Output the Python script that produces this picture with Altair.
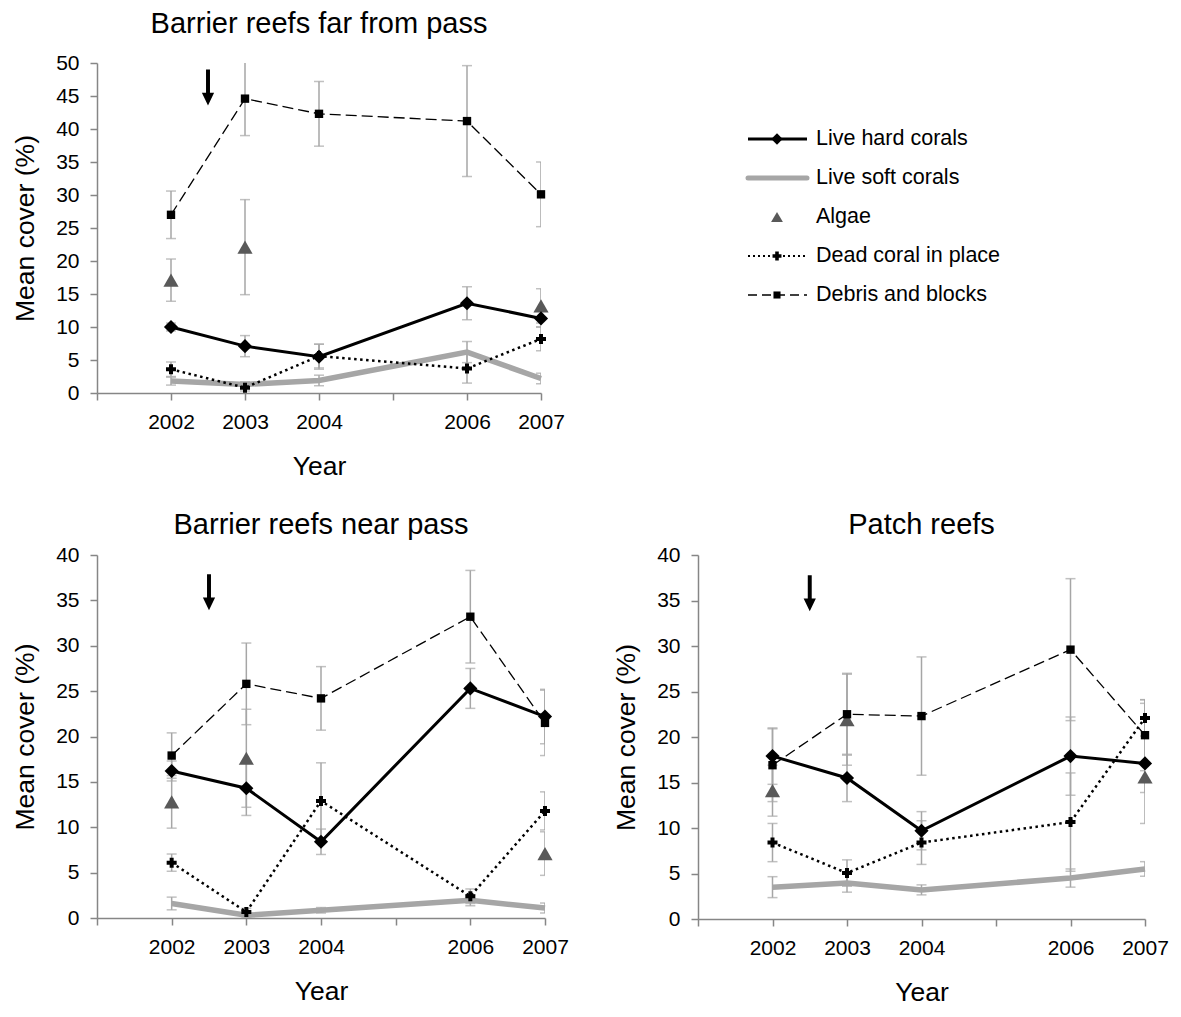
import altair as alt
import pandas as pd

FONT = "Liberation Sans"
GRAY = "#a6a6a6"
AXIS_GRAY = "#868686"
ALGAE = "#595959"

years = [2002, 2003, 2004, 2006, 2007]
series_names = ["Live hard  corals", "Live soft corals", "Algae",
                "Dead coral in place", "Debris and blocks"]

# ---- Barrier reefs far from pass ----
far_hard = [10.0, 7.1, 5.5, 13.6, 11.3]
far_hard_se = [0.6, 1.6, 1.9, 2.5, 1.3]
far_soft = [1.8, 1.3, 1.9, 6.2, 2.2]
far_soft_se = [0.6, 0.4, 0.8, 1.6, 0.8]
far_algae = [17.1, 22.1, None, None, 13.2]
far_algae_se = [3.2, 7.2, None, None, 2.6]
far_dead = [3.6, 0.8, 5.6, 3.7, 8.2]
far_dead_se = [1.1, 0.5, 1.8, 2.2, 1.8]
far_debris = [27.0, 44.6, 42.3, 41.2, 30.1]
far_debris_se = [3.6, 5.6, 4.9, 8.4, 4.9]

# ---- Barrier reefs near pass ----
near_hard = [16.2, 14.3, 8.4, 25.3, 22.2]
near_hard_se = [1.1, 3.0, 1.4, 2.2, 3.0]
near_soft = [1.6, 0.3, 0.85, 1.95, 1.1]
near_soft_se = [0.7, 0.3, 0.3, 0.6, 0.55]
near_algae = [12.8, 17.6, None, None, 7.1]
near_algae_se = [2.9, 5.4, None, None, 2.4]
near_dead = [6.1, 0.66, 12.9, 2.4, 11.8]
near_dead_se = [0.95, 0.4, 4.2, 0.8, 2.1]
near_debris = [17.9, 25.8, 24.2, 33.2, 21.5]
near_debris_se = [2.5, 4.5, 3.5, 5.1, 3.6]

# ---- Patch reefs ----
patch_hard = [17.9, 15.5, 9.7, 17.9, 17.1]
patch_hard_se = [3.1, 2.6, 2.1, 4.3, 6.6]
patch_soft = [3.5, 3.95, 3.2, 4.5, 5.5]
patch_soft_se = [1.15, 1.0, 0.55, 1.0, 0.8]
patch_algae = [14.1, 21.9, None, None, 15.6]
patch_algae_se = [2.8, 5.0, None, None, 1.7]
patch_dead = [8.4, 5.05, 8.4, 10.65, 22.1]
patch_dead_se = [2.1, 1.45, 2.4, 5.4, 2.0]
patch_debris = [16.9, 22.5, 22.3, 29.6, 20.2]
patch_debris_se = [4.0, 4.5, 6.5, 7.8, 3.9]

# arrow (disturbance marker) position per panel
arrow_year = 2002.5
arrow_far = 46.3
arrow_near = 35.9
arrow_patch = 35.8

ARROW_PATH = ("M -0.11 -1 L 0.11 -1 L 0.11 0.3 L 0.34 0.3 L 0 1 "
              "L -0.34 0.3 L -0.11 0.3 Z")


def build_df(groups):
    rows = []
    for name, vals, ses in groups:
        for yr, v, s in zip(years, vals, ses):
            if v is None:
                continue
            rows.append({"year": yr, "series": name, "value": v,
                         "lo": v - s, "hi": v + s})
    return pd.DataFrame(rows)


def panel(groups, title, ymax, arrow_val, w, h, title_offset):
    df = build_df(groups)
    x = alt.X("year:Q",
              scale=alt.Scale(domain=[2001, 2007], nice=False, zero=False),
              axis=alt.Axis(values=list(range(2001, 2008)), format="d",
                            labelExpr="(datum.value == 2001 || datum.value == 2005) ? '' : datum.label",
                            labelFlush=False, labelOverlap=False,
                            title="Year", tickSize=7, labelPadding=11,
                            titlePadding=21))
    yscale = alt.Scale(domain=[0, ymax], nice=False)
    yaxis = alt.Axis(values=list(range(0, ymax + 1, 5)), title="Mean cover (%)",
                     tickSize=7, labelPadding=11, titlePadding=16)
    base = alt.Chart(df)

    def y(field):
        return alt.Y(f"{field}:Q", scale=yscale, axis=yaxis)

    err = base.mark_rule(color=GRAY, strokeWidth=1.5, clip=True).encode(
        x=x, y=y("lo"), y2="hi:Q")
    caps = base.transform_fold(["lo", "hi"], as_=["end", "ev"]).mark_tick(
        orient="horizontal", color=GRAY, thickness=1.5, size=10, clip=True).encode(
        x=x, y=y("ev"))

    def sel(name):
        return base.transform_filter(alt.datum.series == name)

    soft = sel(series_names[1]).mark_line(color=GRAY, strokeWidth=5.5).encode(
        x=x, y=y("value"))
    hard_l = sel(series_names[0]).mark_line(color="black", strokeWidth=3).encode(
        x=x, y=y("value"))
    hard_p = sel(series_names[0]).mark_point(
        shape="diamond", filled=True, color="black", size=200, opacity=1).encode(
        x=x, y=y("value"))
    dead_l = sel(series_names[3]).mark_line(
        color="black", strokeWidth=2.5, strokeDash=[2.5, 3.5]).encode(x=x, y=y("value"))
    dead_p = sel(series_names[3]).mark_point(
        shape="cross", filled=True, color="black", size=100, opacity=1).encode(
        x=x, y=y("value"))
    deb_l = sel(series_names[4]).mark_line(
        color="black", strokeWidth=1.3, strokeDash=[11, 5]).encode(x=x, y=y("value"))
    deb_p = sel(series_names[4]).mark_point(
        shape="square", filled=True, color="black", size=70, opacity=1).encode(
        x=x, y=y("value"))
    alg_p = sel(series_names[2]).mark_point(
        shape="triangle-up", filled=True, color=ALGAE, size=230, opacity=1).encode(
        x=x, y=y("value"))

    arrow = alt.Chart(pd.DataFrame({"year": [arrow_year], "value": [arrow_val]})).mark_point(
        shape=ARROW_PATH, filled=True, color="black", size=1296, opacity=1,
        strokeWidth=0).encode(x=x, y=y("value"))

    return alt.layer(err, caps, soft, hard_l, dead_l, deb_l, alg_p, hard_p,
                     dead_p, deb_p, arrow).properties(
        width=w, height=h,
        title=alt.TitleParams(title, fontSize=29, font=FONT, fontWeight="normal",
                              offset=title_offset, anchor="middle"))


far_groups = [(series_names[0], far_hard, far_hard_se),
              (series_names[1], far_soft, far_soft_se),
              (series_names[2], far_algae, far_algae_se),
              (series_names[3], far_dead, far_dead_se),
              (series_names[4], far_debris, far_debris_se)]
near_groups = [(series_names[0], near_hard, near_hard_se),
               (series_names[1], near_soft, near_soft_se),
               (series_names[2], near_algae, near_algae_se),
               (series_names[3], near_dead, near_dead_se),
               (series_names[4], near_debris, near_debris_se)]
patch_groups = [(series_names[0], patch_hard, patch_hard_se),
                (series_names[1], patch_soft, patch_soft_se),
                (series_names[2], patch_algae, patch_algae_se),
                (series_names[3], patch_dead, patch_dead_se),
                (series_names[4], patch_debris, patch_debris_se)]

p_far = panel(far_groups, "Barrier reefs far from pass", 50, arrow_far, 444, 330, 13)
p_near = panel(near_groups, "Barrier reefs near pass", 40, arrow_near, 448, 363, 4)
p_patch = panel(patch_groups, "Patch reefs", 40, arrow_patch, 447, 364, 4)

# ---- manual legend ----
leg_df = pd.DataFrame({"name": series_names})
ly = alt.Y("name:N", scale=alt.Scale(type="point", domain=series_names,
                                     range=[76, 232], padding=0), axis=None)
lbase = alt.Chart(leg_df)


def lsel(i):
    return lbase.transform_filter(alt.datum.name == series_names[i])


leg_layers = [
    lsel(0).mark_rule(color="black", strokeWidth=3).encode(
        x=alt.value(48), x2=alt.value(107), y=ly),
    lsel(0).mark_point(shape="diamond", filled=True, color="black", size=130,
                       opacity=1).encode(x=alt.value(77), y=ly),
    lsel(1).mark_rule(color=GRAY, strokeWidth=5, strokeCap="round").encode(
        x=alt.value(48), x2=alt.value(107), y=ly),
    lsel(2).mark_point(shape="triangle-up", filled=True, color=ALGAE, size=140,
                       opacity=1).encode(x=alt.value(77), y=ly),
    lsel(3).mark_rule(color="black", strokeWidth=2, strokeDash=[2, 3]).encode(
        x=alt.value(48), x2=alt.value(107), y=ly),
    lsel(3).mark_point(shape="cross", filled=True, color="black", size=80,
                       opacity=1).encode(x=alt.value(77), y=ly),
    lsel(4).mark_rule(color="black", strokeWidth=1.3, strokeDash=[9, 5]).encode(
        x=alt.value(48), x2=alt.value(107), y=ly),
    lsel(4).mark_point(shape="square", filled=True, color="black", size=50,
                       opacity=1).encode(x=alt.value(77), y=ly),
    lbase.mark_text(align="left", baseline="middle", fontSize=21.5, font=FONT,
                    color="black").encode(x=alt.value(116), y=ly, text="name:N"),
]
legend = alt.layer(*leg_layers).properties(width=280, height=330)

top_row = alt.hconcat(p_far, legend, spacing=135)
bottom_row = alt.hconcat(p_near, p_patch, spacing=44)

chart = alt.vconcat(top_row, bottom_row, spacing=31).properties(
    padding={"left": 4, "top": 2, "right": 0, "bottom": 0}
).configure_view(stroke=None).configure_axis(
    domainColor=AXIS_GRAY, tickColor=AXIS_GRAY, domainWidth=1.5, tickWidth=1.5,
    labelColor="black", labelFont=FONT, labelFontSize=21,
    titleFont=FONT, titleFontSize=26.5, titleFontWeight="normal", titleColor="black",
    grid=False
).configure_concat(spacing=20)

chart.save("out.html", embed_options={"renderer": "svg", "actions": False})
